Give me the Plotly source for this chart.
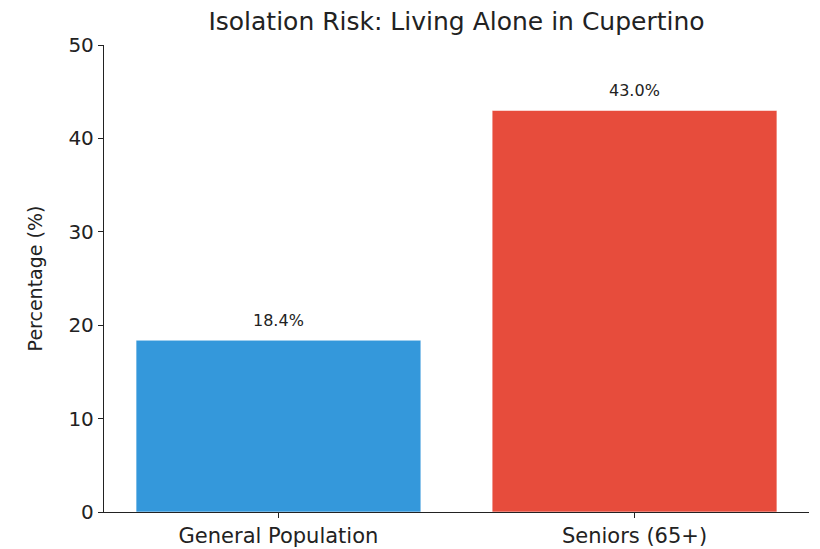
import plotly.graph_objects as go

categories = ["General Population", "Seniors (65+)"]
values = [18.4, 43.0]
colors = ["#3498db", "#e74c3c"]
labels = [f"{v:.1f}%" for v in values]
y_ticks = [0, 10, 20, 30, 40, 50]

FONT = "DejaVu Sans"
OFF = 8  # page body margin
W, H = 820 - OFF, 549 - OFF
L, R, T, B = 104 - OFF, 809 - OFF, 45 - OFF, 512 - OFF

fig = go.Figure()
fig.add_trace(go.Bar(
    x=[0, 1], y=values, width=0.8,
    marker=dict(color=colors, line=dict(color="rgba(255,255,255,0.6)", width=1)),
    hoverinfo="skip",
))
for i, (v, t) in enumerate(zip(values, labels)):
    fig.add_annotation(x=i, y=v, text=t, showarrow=False, yanchor="bottom",
                       yshift=8, font=dict(family=FONT, size=16, color="#222"))

fig.update_layout(
    width=W, height=H,
    margin=dict(l=L, r=W - R, t=T, b=H - B, autoexpand=False),
    plot_bgcolor="white", paper_bgcolor="white",
    showlegend=False,
    title=dict(text="Isolation Risk: Living Alone in Cupertino", x=(L + R) / 2 / W,
               xanchor="center", y=1 - (21 - OFF) / H, yanchor="middle",
               font=dict(family=FONT, size=25, color="#222")),
    xaxis=dict(range=[-0.49, 1.49], tickmode="array", tickvals=[0, 1], ticktext=categories,
               showline=True, linecolor="#222", linewidth=1.3, ticks="outside", ticklen=5,
               tickcolor="#222", showgrid=False, zeroline=False, automargin=False,
               tickfont=dict(family=FONT, size=21, color="#222")),
    yaxis=dict(range=[0, 50], tickvals=y_ticks, showline=True, linecolor="#222", linewidth=1.3,
               ticks="outside", ticklen=5, tickcolor="#222", showgrid=False, zeroline=False,
               automargin=False,
               tickfont=dict(family=FONT, size=20, color="#222"),
               title=dict(text="Percentage (%)", font=dict(family=FONT, size=19, color="#222"),
                          standoff=20)),
)
fig.write_html("out.html")
